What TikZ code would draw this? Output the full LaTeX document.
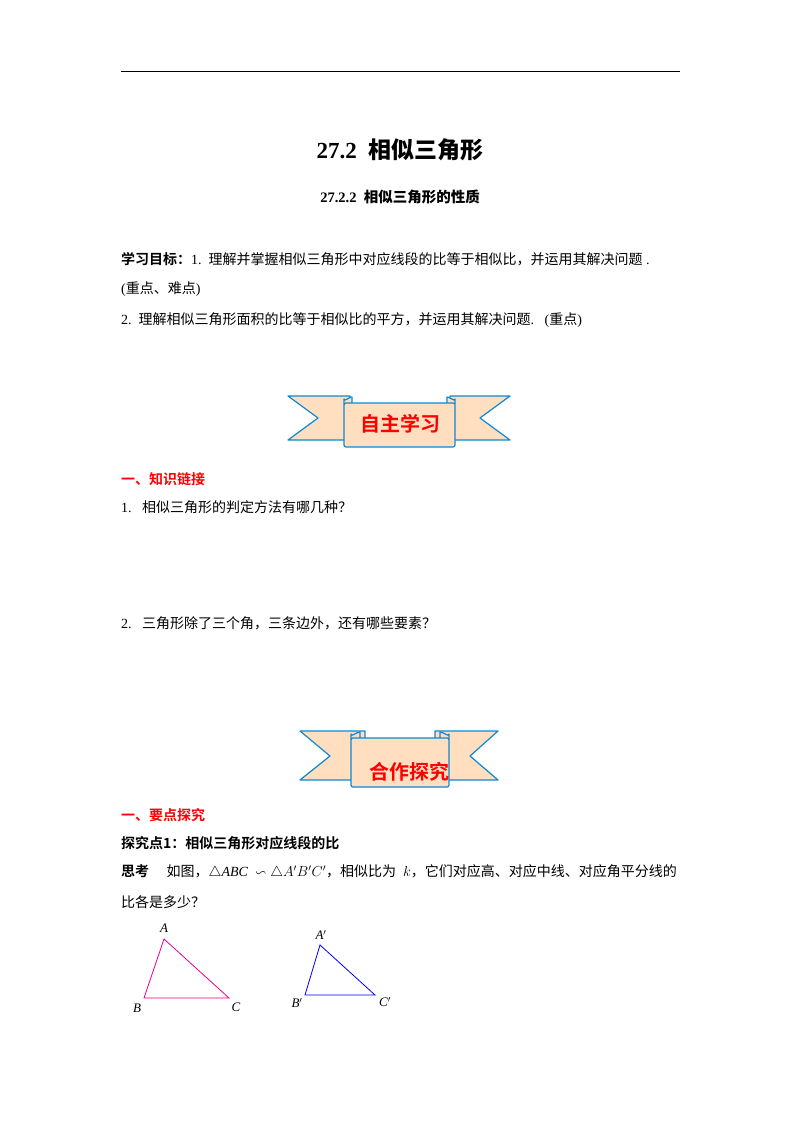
\documentclass[tikz,border=0pt]{standalone}
\usepackage{amssymb}
\usepackage{fontspec}
\setmainfont{Liberation Serif}
\newfontfamily\cjk{Noto Sans CJK SC}
\newfontfamily\cjkb{Noto Sans CJK SC Bold}
\begin{document}
\begin{tikzpicture}[x=1pt,y=-1pt,
  txt/.style={anchor=west,inner sep=0pt,font=\fontsize{14}{16}\selectfont},
  lab/.style={font=\itshape\fontsize{13}{15}\selectfont},
  rib/.style={draw=cyan!70!blue,line width=1.2pt,fill=orange!25,line join=round},
  btitle/.style={font=\cjkb\fontsize{20}{22}\selectfont,text=red}]
\useasboundingbox (0,0) rectangle (800,1132);
\draw[line width=1pt] (121,72) -- (680,72);
\node (t1) at (400,150) {\textbf{\fontsize{23}{26}\selectfont 27.2\ \ {\cjkb 相似三角形}}};
\node (t2) at (400,197) {\textbf{\fontsize{14.5}{16}\selectfont 27.2.2\ \ {\cjkb 相似三角形的性质}}};
\node[txt] (g1) at (121,259) {{\cjkb 学习目标：}1.\ \ {\cjk 理解并掌握相似三角形中对应线段的比等于相似比，并运用其解决问题}\ .};
\node[txt] (g2) at (121,289) {({\cjk 重点、难点})};
\node[txt] (g3) at (121,320) {2.\ \ {\cjk 理解相似三角形面积的比等于相似比的平方，并运用其解决问题}.\ \ \ ({\cjk 重点})};
% banner 1
\begin{scope}
\draw[rib] (288,396) -- (350,396) -- (350,440) -- (288,440) -- (318,418) -- cycle;
\draw[rib] (510,396) -- (450,396) -- (450,440) -- (510,440) -- (480,418) -- cycle;
\draw[rib] (344,404) -- (344,399) to[out=-90,in=180] (352,397) -- (352,404);
\draw[rib] (455,404) -- (455,399) to[out=-90,in=0] (447,397) -- (447,404);
\draw[rib,rounded corners=2pt] (344,403) rectangle (455,447);
\node[btitle] (b1) at (400,424) {自主学习};
\end{scope}
\node[txt,text=red] (h1) at (121,479) {\cjkb 一、知识链接};
\node[txt] (q1) at (121,507) {1.\ \ \ {\cjk 相似三角形的判定方法有哪几种？}};
\node[txt] (q2) at (121,623) {2.\ \ \ {\cjk 三角形除了三个角，三条边外，还有哪些要素？}};
% banner 2
\begin{scope}
\draw[rib] (300,731) -- (365,731) -- (365,780) -- (300,780) -- (330,756) -- cycle;
\draw[rib] (498,731) -- (435,731) -- (435,780) -- (498,780) -- (470,756) -- cycle;
\draw[rib] (351,739) -- (351,734) to[out=-90,in=180] (360,732) -- (360,739);
\draw[rib] (449,739) -- (449,734) to[out=-90,in=0] (440,732) -- (440,739);
\draw[rib,rounded corners=2pt] (351,738) rectangle (449,787);
\begin{scope}
\clip (351,738) rectangle (449,782);
\node[btitle,text width=62pt,align=center,font=\cjkb\fontsize{20}{28}\selectfont] (b2) at (400,772) {合作探究};
\end{scope}
\end{scope}
\node[txt,text=red] (h2) at (121,815) {\cjkb 一、要点探究};
\node[txt] (p1) at (121,843) {\cjkb 探究点1：相似三角形对应线段的比};
\node[txt] (p2) at (121,872) {{\cjkb 思考}\ \ \ \ \ {\cjk 如图，}$\triangle \mathit{ABC}\ \backsim\triangle A'B'C'${\cjk ，相似比为}\ \ $k${\cjk ，它们对应高、对应中线、对应角平分线的}};
\node[txt] (p3) at (121,902) {\cjk 比各是多少？};
% triangles
\coordinate (A) at (164,939); \coordinate (B) at (144,998); \coordinate (C) at (229,998);
\draw[magenta,line width=0.8pt] (A) -- (B) -- (C) -- cycle;
\node[lab] (la) at (164,928) {A};
\node[lab] (lb) at (137,1008) {B};
\node[lab] (lc) at (236,1007) {C};
\coordinate (A2) at (320,945); \coordinate (B2) at (305,995); \coordinate (C2) at (375,995);
\draw[blue,line width=0.8pt] (A2) -- (B2) -- (C2) -- cycle;
\node[lab] (la2) at (321,935) {A$'$};
\node[lab] (lb2) at (297,1003) {B$'$};
\node[lab] (lc2) at (385,1002) {C$'$};
\end{tikzpicture}
\end{document}
